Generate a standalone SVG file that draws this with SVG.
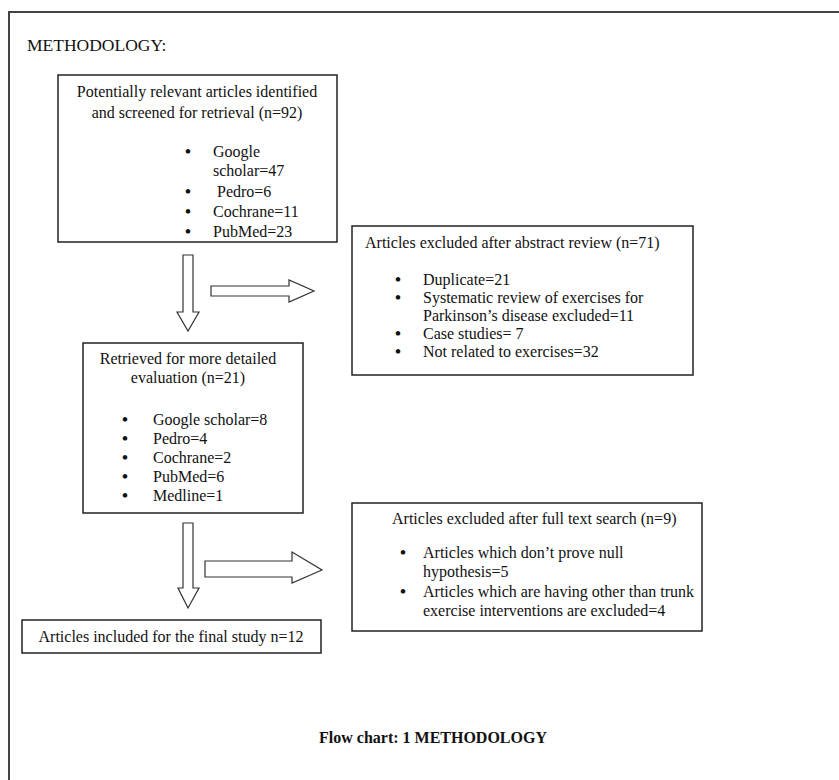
<svg xmlns="http://www.w3.org/2000/svg" width="839" height="780" viewBox="0 0 839 780">
<style>
text{font-family:"Liberation Serif","Times New Roman",serif;font-size:16px;fill:#111}
.c{text-anchor:middle}
.b{font-size:17px;font-weight:bold}
.h{font-size:17.5px}
.box{fill:#fff;stroke:#222;stroke-width:1.5}
.arr{fill:#fff;stroke:#333;stroke-width:1.2}
.cap{font-weight:bold;font-size:16px}
</style>
<rect width="839" height="780" fill="#fff"/>
<path d="M9,780 V12 H839" fill="none" stroke="#444" stroke-width="2"/>
<text class="h" x="27" y="51">METHODOLOGY:</text>
<g id="identified">
<rect class="box" x="58" y="75" width="279" height="167"/>
<text class="c" x="197" y="97">Potentially relevant articles identified</text>
<text class="c" x="197" y="118">and screened for retrieval (n=92)</text>
<text class="b" x="185" y="157">•</text><text x="213" y="157">Google</text>
<text x="213" y="176">scholar=47</text>
<text class="b" x="185" y="197">•</text><text x="217" y="197">Pedro=6</text>
<text class="b" x="185" y="217">•</text><text x="213" y="217">Cochrane=11</text>
<text class="b" x="185" y="237">•</text><text x="213" y="237">PubMed=23</text>
</g>
<g id="excluded-abstract">
<rect class="box" x="352" y="226" width="341" height="149"/>
<text x="365" y="248">Articles excluded after abstract review (n=71)</text>
<text class="b" x="395" y="285">•</text><text x="423" y="285">Duplicate=21</text>
<text class="b" x="395" y="303">•</text><text x="423" y="303">Systematic review of exercises for</text>
<text x="423" y="321">Parkinson’s disease excluded=11</text>
<text class="b" x="395" y="339">•</text><text x="423" y="339">Case studies= 7</text>
<text class="b" x="395" y="357">•</text><text x="423" y="357">Not related to exercises=32</text>
</g>
<g id="retrieved">
<rect class="box" x="83" y="343" width="220" height="170"/>
<text class="c" x="188" y="364">Retrieved for more detailed</text>
<text class="c" x="188" y="383">evaluation (n=21)</text>
<text class="b" x="122" y="425">•</text><text x="153" y="425">Google scholar=8</text>
<text class="b" x="122" y="444">•</text><text x="153" y="444">Pedro=4</text>
<text class="b" x="122" y="463">•</text><text x="153" y="463">Cochrane=2</text>
<text class="b" x="122" y="482">•</text><text x="153" y="482">PubMed=6</text>
<text class="b" x="122" y="501">•</text><text x="153" y="501">Medline=1</text>
</g>
<g id="excluded-fulltext">
<rect class="box" x="352" y="503" width="350" height="128"/>
<text x="392" y="524">Articles excluded after full text search (n=9)</text>
<text class="b" x="400" y="558">•</text><text x="423" y="558">Articles which don’t prove null</text>
<text x="423" y="577">hypothesis=5</text>
<text class="b" x="400" y="597">•</text><text x="423" y="597">Articles which are having other than trunk</text>
<text x="423" y="616">exercise interventions are excluded=4</text>
</g>
<g id="included">
<rect class="box" x="22" y="620" width="299" height="33"/>
<text class="c" x="171" y="642">Articles included for the final study n=12</text>
</g>
<g id="connectors">
<path class="arr" d="M183,255 H193 V312 H199 L188,331 L177,312 H183 Z"/>
<path class="arr" d="M211,286 H289 V280 L314,291 L289,302 V296 H211 Z"/>
<path class="arr" d="M183,523 H193 V588 H199 L188,608 L178,588 H183 Z"/>
<path class="arr" d="M205,561 H292 V552 L322,570 L292,583 V577 H205 Z"/>
</g>
<text class="c cap" x="433" y="743">Flow chart: 1 METHODOLOGY</text>
</svg>
